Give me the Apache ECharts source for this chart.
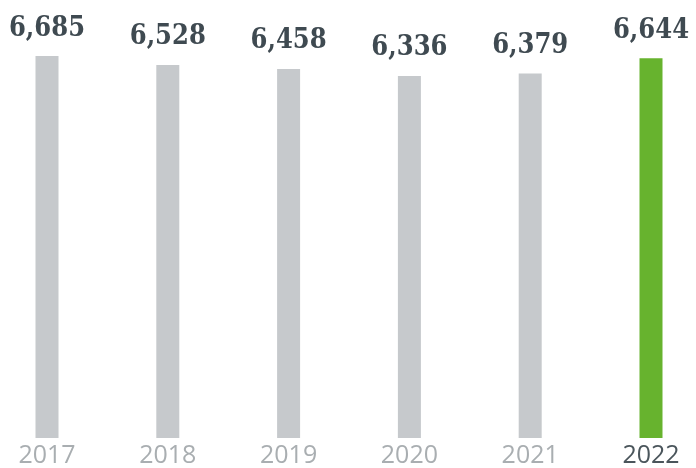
<!DOCTYPE html>
<html><head><meta charset="utf-8">
<script src="https://cdn.jsdelivr.net/npm/echarts@6/dist/echarts.min.js"></script>
<style>html,body{margin:0;padding:0;background:#fff}#c{width:696px;height:468px}</style>
</head><body><div id="c"></div>
<script>
const years = ['2017','2018','2019','2020','2021','2022'];
const values = [6685, 6528, 6458, 6336, 6379, 6644];
const highlightYear = '2022';

const chart = echarts.init(document.getElementById('c'), null, {renderer:'canvas'});
chart.setOption({
  animation:false,
  grid:{left:47, right:45, top:38, bottom:29},
  xAxis:{type:'category', data:years, boundaryGap:false,
    axisLine:{show:false}, axisTick:{show:false},
    axisLabel:{margin:5, fontFamily:'Open Sans', fontSize:25,
      color:(v)=> v===highlightYear ? '#4a555b' : '#a9aeb1'}},
  yAxis:{type:'value', min:0, max:7000, show:false, splitLine:{show:false}},
  series:[{type:'bar', barWidth:23,
    data: values.map((v,i)=>({value:v, itemStyle:{color: years[i]===highlightYear ? '#67b32e' : '#c6c9cc'}})),
    label:{show:true, position:'top', distance:14,
      fontFamily:'DejaVu Serif Condensed', fontWeight:'bold', fontSize:27, color:'#3f4a51',
      formatter:(p)=> p.value.toLocaleString('en-US')}
  }]
});
</script></body></html>
